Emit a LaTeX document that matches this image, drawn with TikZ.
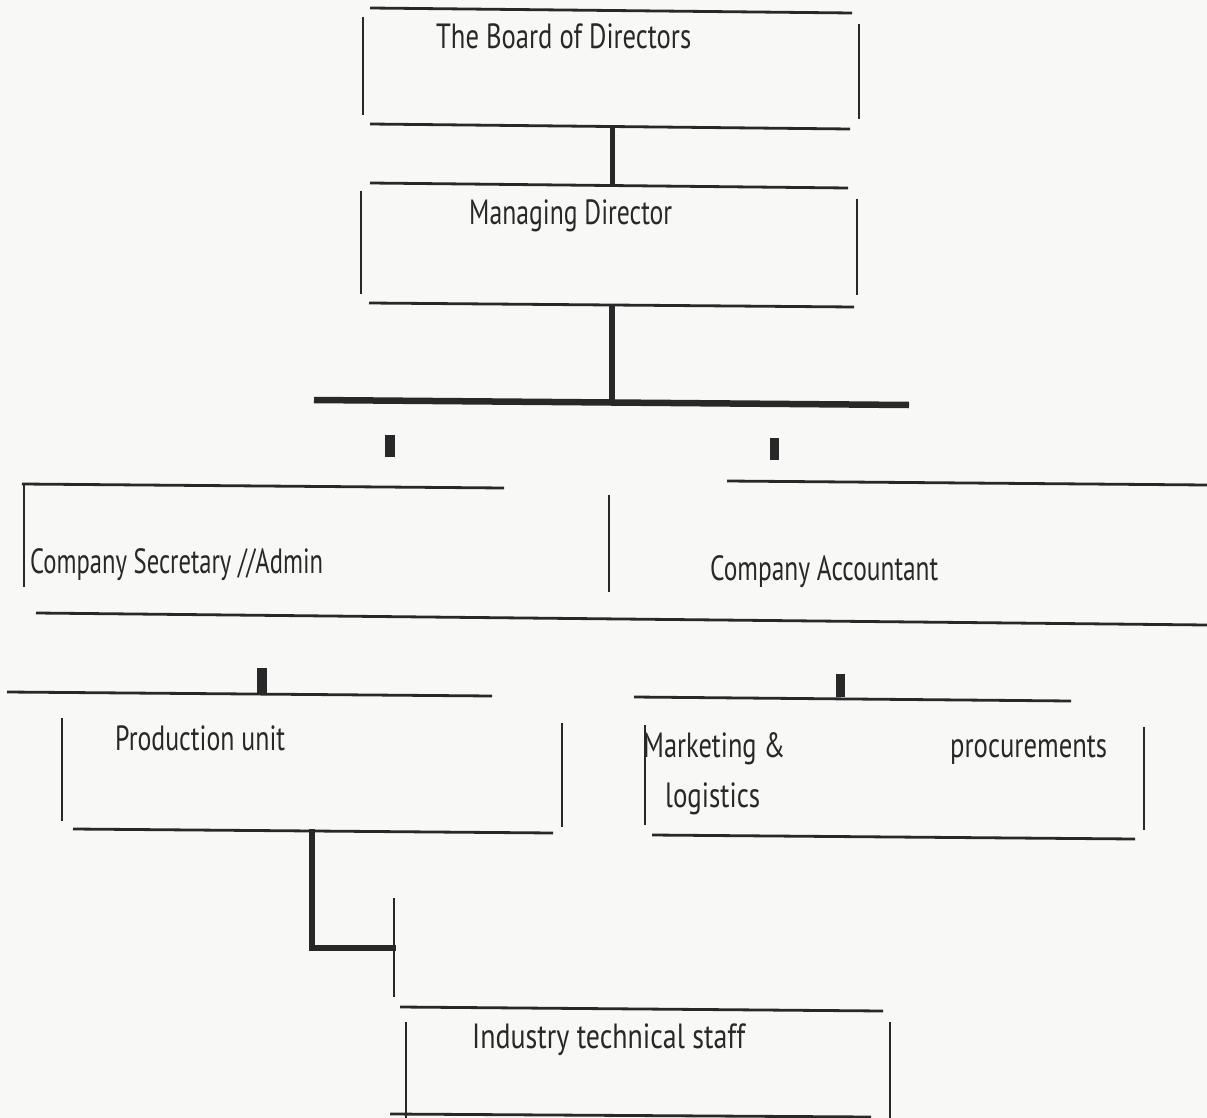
\documentclass[tikz,border=0pt]{standalone}
\usepackage{fontspec}
\setmainfont{PT Sans}
\usepackage{graphicx}
\definecolor{ink}{RGB}{40,40,40}
\definecolor{paper}{RGB}{248,248,247}
\begin{document}
\begin{tikzpicture}[x=1pt,y=-1pt,
  rule/.style={draw=ink,line width=2.8pt},
  vrule/.style={draw=ink,line width=2.3pt},
  link/.style={draw=ink,line width=5pt},
  bar/.style={draw=ink,line width=6.5pt},
  tick/.style={fill=ink},
  lbl/.style={inner sep=0pt,anchor=base west,text=ink,font=\fontsize{35}{40}\selectfont}]
\fill[paper] (0,0) rectangle (1207,1118);
\useasboundingbox (0,0) rectangle (1207,1118);

% ---- The Board of Directors
\draw[rule] (370,8) -- (852,13);
\draw[vrule] (363,17) -- (363,115);
\draw[vrule] (859,24) -- (859,119);
\draw[rule] (370,124) -- (850,129);
\node[lbl] (board) at (436,49) {\resizebox{255pt}{\height}{The Board of Directors}};

% ---- Managing Director
\draw[rule] (370,183) -- (848,188);
\draw[vrule] (361,191) -- (361,294);
\draw[vrule] (857,199) -- (857,295);
\draw[rule] (369,303) -- (854,307);
\node[lbl] (md) at (469,225) {\resizebox{203pt}{\height}{Managing Director}};

% connectors top
\coordinate (boardB) at (612,128);
\coordinate (mdT) at (612,185);
\draw[link] (boardB) -- (mdT);
\coordinate (mdB) at (612,306);
\coordinate (barM) at (612,401);
\draw[link,line width=6pt] (mdB) -- (barM);
\coordinate (barL) at (314,400);
\coordinate (barR) at (909,405);
\draw[bar] (barL) -- (barR);

% ticks
\fill[tick] (385,435) rectangle (395,457);
\fill[tick] (770,438) rectangle (779,460);

% ---- Company Secretary / Accountant
\draw[rule] (22,484) -- (504,488);
\draw[vrule] (24,484) -- (24,587);
\draw[vrule] (609,495) -- (609,592);
\draw[rule] (36,613) -- (1207,625);
\draw[rule] (727,481) -- (1207,485);
\node[lbl] (sec) at (30,573) {\resizebox{293pt}{\height}{Company Secretary //Admin}};
\node[lbl] (acc) at (710,580) {\resizebox{228pt}{\height}{Company Accountant}};

% ticks
\fill[tick] (257,668) rectangle (267,693);
\fill[tick] (836,674) rectangle (845,697);

% ---- Production unit
\draw[rule] (7,692) -- (492,696);
\draw[vrule] (62,718) -- (62,821);
\draw[vrule] (562,723) -- (562,827);
\draw[rule] (73,829) -- (553,833);
\node[lbl] (prod) at (115,750) {\resizebox{170pt}{\height}{Production unit}};

% ---- Marketing & logistics / procurements
\draw[rule] (634,697) -- (1071,701);
\draw[vrule] (645,725) -- (645,825);
\draw[vrule] (1144,727) -- (1144,830);
\draw[rule] (652,835) -- (1135,839);
\node[lbl] (mkt) at (643,757) {\resizebox{142pt}{\height}{Marketing \&}};
\node[lbl] (proc) at (950,757) {\resizebox{157pt}{\height}{procurements}};
\node[lbl] (logi) at (665,807) {\resizebox{95pt}{\height}{logistics}};

% ---- connector to Industry technical staff
\coordinate (prodB) at (312,832);
\coordinate (elbow) at (312,948);
\coordinate (join) at (393,948);
\draw[link,line width=6.5pt,line cap=rect] (prodB) -- (elbow) -- (join);
\coordinate (stubT) at (394,898);
\coordinate (stubB) at (394,997);
\draw[vrule] (stubT) -- (stubB);

% ---- Industry technical staff
\draw[rule] (400,1007) -- (883,1011);
\draw[vrule] (406,1022) -- (406,1118);
\draw[vrule] (890,1022) -- (890,1118);
\draw[rule] (390,1114) -- (871,1117);
\node[lbl] (ind) at (472,1048) {\resizebox{273pt}{\height}{Industry technical staff}};
\end{tikzpicture}
\end{document}
